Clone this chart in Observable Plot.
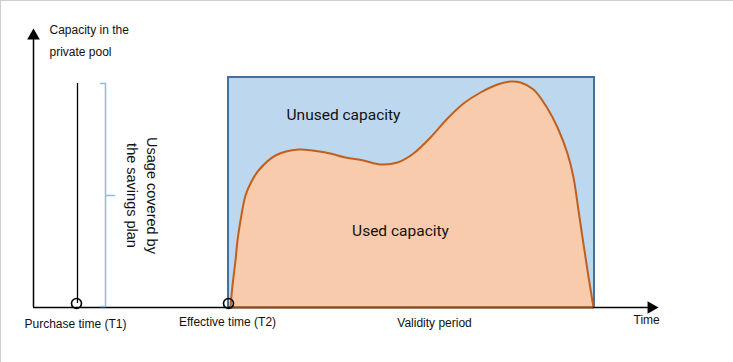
<!DOCTYPE html>
<html>
<head>
<meta charset="utf-8">
<script src="https://cdn.jsdelivr.net/npm/d3@7"></script>
<script src="https://cdn.jsdelivr.net/npm/@observablehq/plot@0.6"></script>
<style>
  html, body { margin: 0; padding: 0; background: #fff; }
  svg { display: block; }
</style>
</head>
<body>
<div id="chart"></div>
<script>
// Usage curve (time, used capacity)
const usageTime = [197,199,202,204,207,212,217,225,242,265,292,312,330,347,364,380,397,414,430,447,464,477,487,500,514,524,534,540,545,549,554,560];
const usageCap  = [0,22,47,67,87,112,124,137,152,158,155,150,147,143,145,154,170,189,204,215,223,226,225,218,199,180,154,130,97,70,37,0];

// Private pool capacity over validity period
const poolStart = 195, poolEnd = 561, poolCapacity = 230;

// Key time points
const eventNames = ["Purchase time (T1)", "Effective time (T2)"];
const eventTimes = [43, 195];

// Savings plan coverage bracket
const bracketTime = [67, 72, 72, 81, 72, 72, 67];
const bracketCap  = [224, 224, 112, 112, 112, 1, 1];

// Axis extents
const timeMax = 615, capMax = 268;

// Labels (left-aligned)
const leftLabels = ["Capacity in the", "private pool", "Time"];
const leftLabelX = [16, 16, 600];
const leftLabelY = [277, 255, -13];

// Labels (centered)
const centerLabels = ["Purchase time (T1)", "Effective time (T2)", "Validity period"];
const centerLabelX = [42, 194, 401];
const centerLabelY = [-17, -15, -16];

const areaLabels = ["Unused capacity", "Used capacity"];
const areaLabelX = [310, 367];
const areaLabelY = [192, 76];

const usage = usageTime.map((t, i) => ({t, c: usageCap[i]}));
const bracket = bracketTime.map((t, i) => ({t, c: bracketCap[i]}));
const leftText = leftLabels.map((s, i) => ({s, x: leftLabelX[i], y: leftLabelY[i]}));
const centerText = centerLabels.map((s, i) => ({s, x: centerLabelX[i], y: centerLabelY[i]}));
const areaText = areaLabels.map((s, i) => ({s, x: areaLabelX[i], y: areaLabelY[i]}));
const events = eventNames.map((n, i) => ({n, t: eventTimes[i]}));

const labelFont = "Liberation Sans, Arial, sans-serif";

const chart = Plot.plot({
  width: 733,
  height: 362,
  margin: 0,
  x: {domain: [-33, 700], range: [0, 733], axis: null},
  y: {domain: [-55, 307], range: [362, 0], axis: null},
  marks: [
    Plot.frame({stroke: "#cfcfcf"}),
    // pool rectangle
    Plot.rect([{x1: poolStart, x2: poolEnd, y1: 0, y2: poolCapacity}], {
      x1: "x1", x2: "x2", y1: "y1", y2: "y2",
      fill: "#bdd7ee", stroke: "#41719c", strokeWidth: 2
    }),
    // used area
    Plot.areaY(usage, {x: "t", y: "c", curve: "catmull-rom", fill: "#f8cbad"}),
    Plot.line(usage, {x: "t", y: "c", curve: "catmull-rom", stroke: "#c0601e", strokeWidth: 2}),
    // axes
    Plot.ruleY([0], {x1: 0, x2: timeMax, stroke: "#000", strokeWidth: 1.5}),
    Plot.ruleY([0], {x1: poolStart + 2, x2: poolEnd - 1, stroke: "#8a4a1c", strokeWidth: 2}),
    Plot.ruleX([0], {y1: 0, y2: capMax, stroke: "#000", strokeWidth: 1.5}),
    Plot.dot([{x: timeMax + 2.7, y: 0}], {x: "x", y: "y", symbol: "triangle", r: 4.7, fill: "#000", rotate: 90}),
    Plot.dot([{x: 0, y: capMax + 3.7}], {x: "x", y: "y", symbol: "triangle", r: 4.7, fill: "#000"}),
    // T1 vertical line
    Plot.ruleX([eventTimes[0] + 1], {y1: 4, y2: 224, stroke: "#000", strokeWidth: 1.3}),
    // bracket
    Plot.line(bracket, {x: "t", y: "c", stroke: "#8fbae4", strokeWidth: 1.5}),
    // event circles
    Plot.dot(events, {x: "t", y: 4, r: 5, stroke: "#000", strokeWidth: 1.6, fill: "none"}),
    // texts
    Plot.text(leftText, {
      x: "x", y: "y", text: "s", textAnchor: "start",
      fontSize: 12, fill: "#111", fontFamily: labelFont
    }),
    Plot.text(centerText, {
      x: "x", y: "y", text: "s", textAnchor: "middle",
      fontSize: 12, fill: "#111", fontFamily: labelFont
    }),
    Plot.text(areaText, {
      x: "x", y: "y", text: "s",
      fontSize: 15.5, fill: "#111", fontFamily: "Roboto, sans-serif"
    }),
    Plot.text(["Usage covered by\nthe savings plan"], {
      x: 110, y: 112, text: d => d, rotate: 90, lineHeight: 1.35,
      fontSize: 14.5, fill: "#111", fontFamily: labelFont
    })
  ]
});
document.getElementById("chart").appendChild(chart);
</script>
</body>
</html>
